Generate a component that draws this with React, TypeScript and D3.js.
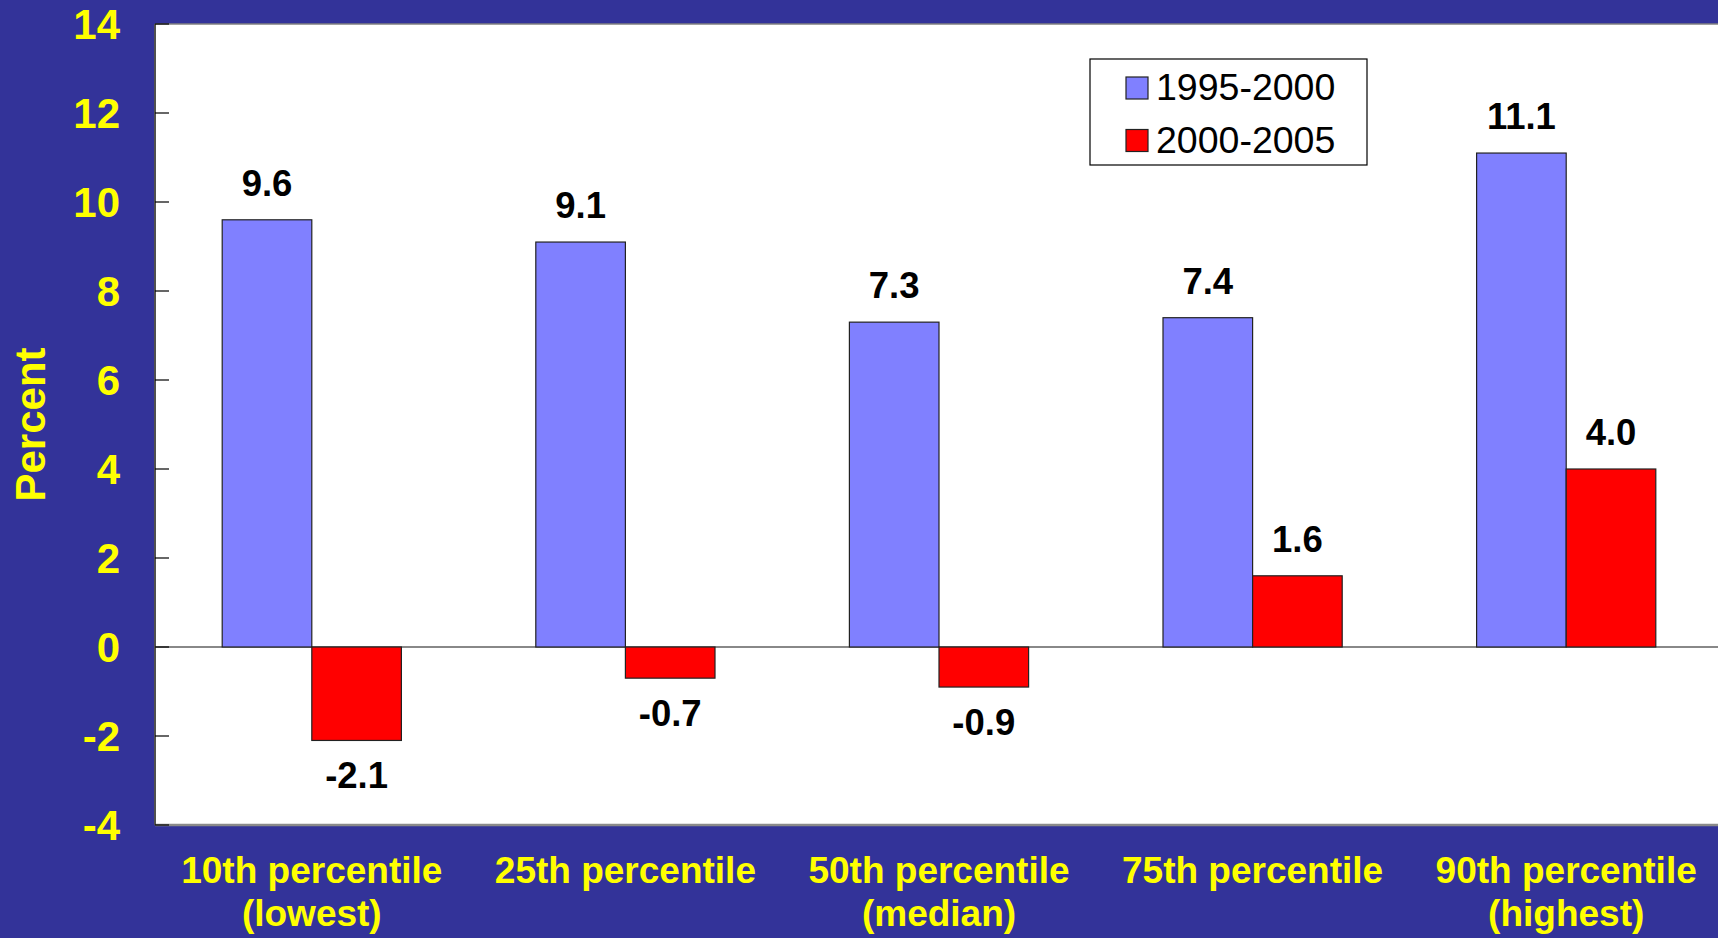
import React from "react";
import * as d3 from "d3";

const categories: string[][] = [
  ["10th percentile", "(lowest)"],
  ["25th percentile"],
  ["50th percentile", "(median)"],
  ["75th percentile"],
  ["90th percentile", "(highest)"],
];
const seriesNames = ["1995-2000", "2000-2005"];
const values1995 = [9.6, 9.1, 7.3, 7.4, 11.1];
const values2000 = [-2.1, -0.7, -0.9, 1.6, 4.0];
const yTicks = [-4, -2, 0, 2, 4, 6, 8, 10, 12, 14];

const W = 1718;
const H = 938;
const FONT = "'Liberation Sans', Arial, Helvetica, sans-serif";
const BG = "#333399";
const YELLOW = "#FFFF00";
const COLORS = ["#8080FF", "#FF0000"];

export default function App() {
  const left = 155;
  const right = 1723;
  const top = 24;
  const bottom = 825;

  const keys = categories.map((c) => c.join(" "));
  const x0 = d3.scaleBand<string>().domain(keys).range([left, right]).padding(0);
  const x1 = d3
    .scaleBand<string>()
    .domain(seriesNames)
    .range([0, x0.step()])
    .paddingInner(0)
    .paddingOuter(0.75);
  const y = d3.scaleLinear().domain([-4, 14]).range([bottom, top]);

  const series = [values1995, values2000];

  return (
    <div style={{ position: "fixed", left: 0, top: 0, width: W, height: H }}>
      <svg width={W} height={H} style={{ display: "block" }}>
        <rect x={0} y={0} width={W} height={H} fill={BG} />
        <rect x={left} y={top} width={right - left} height={bottom - top} fill="#FFFFFF" />
        <line x1={left} x2={right} y1={top} y2={top} stroke="#808080" strokeWidth={1.5} />
        <line x1={left} x2={right} y1={bottom} y2={bottom} stroke="#8a8a8a" strokeWidth={2.5} />
        {/* zero line */}
        <line x1={left} x2={right} y1={y(0)} y2={y(0)} stroke="#606060" strokeWidth={1.5} />

        {/* bars */}
        {series.map((vals, si) =>
          vals.map((v, i) => {
            const bx = (x0(keys[i]) as number) + (x1(seriesNames[si]) as number);
            const bw = x1.bandwidth();
            const y0 = y(Math.max(0, v));
            const h = Math.abs(y(v) - y(0));
            return (
              <rect
                key={`b${si}-${i}`}
                x={bx}
                y={y0}
                width={bw}
                height={h}
                fill={COLORS[si]}
                stroke="#222222"
                strokeWidth={1.2}
              />
            );
          })
        )}

        {/* data labels */}
        {series.map((vals, si) =>
          vals.map((v, i) => {
            const cx = (x0(keys[i]) as number) + (x1(seriesNames[si]) as number) + x1.bandwidth() / 2;
            const ly = v >= 0 ? y(v) - 24 : y(v) + 48;
            return (
              <text
                key={`l${si}-${i}`}
                x={cx}
                y={ly}
                textAnchor="middle"
                fontFamily={FONT}
                fontWeight="bold"
                fontSize={36.5}
                fill="#000000"
              >
                {v.toFixed(1)}
              </text>
            );
          })
        )}

        {/* y axis */}
        <line x1={left} x2={left} y1={top} y2={bottom} stroke="#505050" strokeWidth={2} />
        {yTicks.map((t) => (
          <g key={`t${t}`}>
            <line x1={left} x2={left + 14} y1={y(t)} y2={y(t)} stroke="#000000" strokeWidth={1.2} />
            <text
              x={120}
              y={y(t) + 15}
              textAnchor="end"
              fontFamily={FONT}
              fontWeight="bold"
              fontSize={42}
              fill={YELLOW}
            >
              {t}
            </text>
          </g>
        ))}

        {/* y title */}
        <text
          transform={`translate(45, ${(top + bottom) / 2}) rotate(-90)`}
          textAnchor="middle"
          fontFamily={FONT}
          fontWeight="bold"
          fontSize={42}
          fill={YELLOW}
        >
          Percent
        </text>

        {/* x labels */}
        {categories.map((lines, i) => (
          <text
            key={`x${i}`}
            textAnchor="middle"
            fontFamily={FONT}
            fontWeight="bold"
            fontSize={37}
            fill={YELLOW}
          >
            {lines.map((ln, li) => (
              <tspan key={li} x={(x0(keys[i]) as number) + x0.bandwidth() / 2} y={883 + li * 43}>
                {ln}
              </tspan>
            ))}
          </text>
        ))}

        {/* legend */}
        <rect x={1090} y={59} width={277} height={106} fill="#FFFFFF" stroke="#000000" strokeWidth={1.2} />
        {seriesNames.map((s, si) => (
          <g key={`lg${si}`}>
            <rect
              x={1126}
              y={77 + si * 52.5}
              width={22}
              height={22}
              fill={COLORS[si]}
              stroke="#222222"
              strokeWidth={1.2}
            />
            <text x={1156} y={100 + si * 52.5} fontFamily={FONT} fontSize={37.5} fill="#000000">
              {s}
            </text>
          </g>
        ))}
      </svg>
    </div>
  );
}
